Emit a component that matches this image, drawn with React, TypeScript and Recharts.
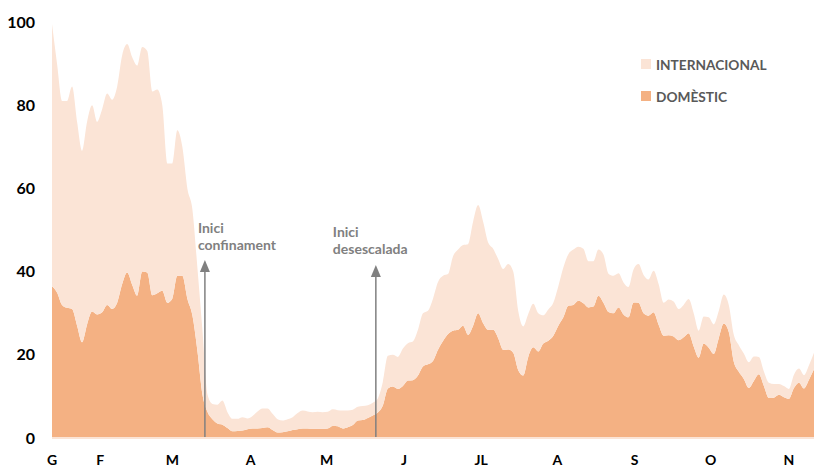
import { Area, AreaChart, Legend, ReferenceLine, XAxis, YAxis } from "recharts";

// one sample roughly every 5px of the original chart, Jan -> mid Nov
const domestic = [
  36.5, 35, 32, 31.3, 31, 27, 23, 27.3, 30.4, 29.7,
  30.2, 32, 31, 32.5, 37, 39.8, 36.8, 34.2, 40, 39.8,
  34.3, 34.8, 35.4, 32.5, 33.5, 39, 39, 33.5, 29.5, 21,
  10.5, 6.3, 4.5, 3.5, 3.2, 2.4, 1.6, 1.7, 1.8, 2.1,
  2.3, 2.3, 2.4, 2.6, 1.9, 1.3, 1.4, 1.6, 1.9, 2.1,
  2.3, 2.3, 2.2, 2.2, 2.2, 2.3, 2.9, 2.8, 2.3, 2.6,
  3.1, 4.2, 4.3, 4.8, 5.4, 6.1, 7.8, 11.9, 12.4, 11.8,
  12.5, 13.8, 13.9, 15, 17.2, 17.7, 18.5, 21.2, 23.3, 25,
  25.8, 26, 27, 24.8, 27, 30, 27.6, 26, 26, 24,
  21.2, 21.3, 20.5, 16.3, 15, 19.5, 21.8, 20.8, 22.7, 23.4,
  24.6, 27, 29, 31.8, 32, 33, 32.4, 31.4, 31.6, 34.2,
  32.5, 30.3, 30, 31.4, 29.7, 29, 32.6, 32.5, 30, 29.4,
  30.2, 27.2, 24.6, 24.7, 24.4, 23.5, 24.2, 25.2, 22, 19.3,
  22.7, 21.7, 20.2, 24, 27.5, 25.5, 18.3, 15.9, 14.2, 12,
  13.7, 15.3, 12.5, 9.6, 9.7, 10.4, 9.8, 9.4, 12, 13.3,
  11.9, 14, 16.5,
];

const internacional = [
  63, 55, 49, 49.7, 53.5, 49, 46, 48.7, 49.6, 46.3,
  48.8, 50.8, 50.3, 52, 55, 54.9, 54.7, 55.3, 54, 53.2,
  49, 49, 44.6, 33.5, 32.5, 35, 31, 26.5, 25.5, 20,
  15.5, 4.2, 3.7, 4.5, 5.8, 3.8, 3, 2.9, 3.2, 2.6,
  3, 4.1, 4.7, 4.5, 3.9, 3.2, 2.8, 2.9, 3.1, 3.9,
  4.3, 4.1, 4, 4.1, 4, 4, 4, 3.9, 4.3, 4,
  3.7, 3.3, 3.4, 3.1, 3.1, 3.4, 5.7, 7.9, 7.6, 7.7,
  9, 9, 9.3, 11, 12.8, 12.9, 15, 16.3, 15.7, 14.4,
  17.9, 19.3, 19.4, 21.8, 25, 26, 24.4, 21, 19.5, 19,
  19.4, 20.5, 19.5, 14.2, 11.8, 10.3, 10.5, 9.2, 6.8, 7.5,
  7.9, 9.5, 12, 12.4, 13.3, 13, 13.1, 11.1, 10.9, 11.1,
  11.6, 9.2, 9, 8.2, 7.7, 7.3, 7.9, 9.3, 9.2, 8.7,
  10, 9.8, 7.9, 8.6, 8.4, 7.5, 7.8, 8.2, 8, 6.5,
  6.5, 7.3, 7.1, 6.5, 7, 6.5, 6.5, 6.4, 6.1, 6.2,
  5.9, 4.2, 3.5, 3.7, 3.3, 2.6, 2.7, 2.4, 3.2, 3.4,
  3.2, 3.5, 4,
];

const monthTicks = [0, 9.6, 24, 39.6, 54.8, 70.2, 85.6, 100.8, 116.2, 131.4, 147];
const monthLabels = ["G", "F", "M", "A", "M", "J", "JL", "A", "S", "O", "N"];
const yTicks = [0, 20, 40, 60, 80, 100];

const eventAt = [30.5, 64.6];
const eventTop = [42.8, 41.6];
const eventLabels = [
  ["Inici", "confinament"],
  ["Inici", "desescalada"],
];

const COLORS = { domestic: "#F4B183", internacional: "#FBE4D6" };
const FONT = "Lato, 'Open Sans', sans-serif";
// where the label text sits relative to the arrow tip
const labelOffset = [
  { dx: -7, dy: -32 },
  { dx: -43, dy: -33 },
];

const data = domestic.map((d, i) => ({ i, domestic: d, internacional: internacional[i] }));

function makeArrow(k: number) {
  return (p: any) => {
    const x = p.x1;
    const tip = Math.min(p.y1, p.y2);
    const base = Math.max(p.y1, p.y2);
    const off = labelOffset[k];
    return (
      <g>
        <line x1={x} y1={base} x2={x} y2={tip + 10} stroke="#808080" strokeWidth={1.5} />
        <polygon points={`${x - 5},${tip + 12} ${x + 5},${tip + 12} ${x},${tip}`} fill="#808080" />
        {eventLabels[k].map((t, j) => (
          <text
            key={t}
            x={x + off.dx}
            y={tip + off.dy + j * 17}
            dominantBaseline="central"
            fontFamily={FONT}
            fontSize={14}
            fontWeight={700}
            fill="#808080"
          >
            {t}
          </text>
        ))}
      </g>
    );
  };
}

function LegendBox() {
  const items = [
    { name: "INTERNACIONAL", color: COLORS.internacional },
    { name: "DOMÈSTIC", color: COLORS.domestic },
  ];
  return (
    <div style={{ fontFamily: FONT }}>
      {items.map((it) => (
        <div key={it.name} style={{ display: "flex", alignItems: "center", height: 32 }}>
          <span style={{ width: 10, height: 10, background: it.color, marginRight: 5 }} />
          <span style={{ fontSize: 13.7, fontWeight: 700, color: "#595959" }}>{it.name}</span>
        </div>
      ))}
    </div>
  );
}

export default function App() {
  return (
    <div style={{ position: "absolute", left: 0, top: 0, width: 814, height: 467, background: "#fff" }}>
      <AreaChart width={814} height={467} data={data} margin={{ top: 22, right: 0, left: 0, bottom: 0 }}>
        <XAxis
          dataKey="i"
          type="number"
          domain={[0, domestic.length - 1]}
          ticks={monthTicks}
          interval={0}
          tickFormatter={(_v, idx) => monthLabels[idx]}
          height={29}
          tickLine={false}
          axisLine={{ stroke: "#FBE4D6", strokeWidth: 2 }}
          tickMargin={11}
          tick={{ fill: "#000", fontSize: 14, fontWeight: 700, fontFamily: FONT }}
        />
        <YAxis
          domain={[0, 100]}
          ticks={yTicks}
          width={52}
          tickLine={false}
          axisLine={false}
          tickMargin={11}
          tick={{ fill: "#000", fontSize: 16, fontWeight: 700, fontFamily: FONT }}
        />
        <Legend
          layout="vertical"
          verticalAlign="middle"
          align="center"
          content={<LegendBox />}
          wrapperStyle={{ position: "absolute", top: 48, left: 641, width: 180 }}
        />
        <Area
          type="monotone"
          dataKey="domestic"
          stackId="a"
          stroke="none"
          fill={COLORS.domestic}
          fillOpacity={1}
          isAnimationActive={false}
        />
        <Area
          type="monotone"
          dataKey="internacional"
          stackId="a"
          stroke="none"
          fill={COLORS.internacional}
          fillOpacity={1}
          isAnimationActive={false}
        />
        {eventAt.map((x, k) => (
          <ReferenceLine
            key={x}
            segment={[
              { x, y: 0 },
              { x, y: eventTop[k] },
            ]}
            shape={makeArrow(k)}
          />
        ))}
      </AreaChart>
    </div>
  );
}
